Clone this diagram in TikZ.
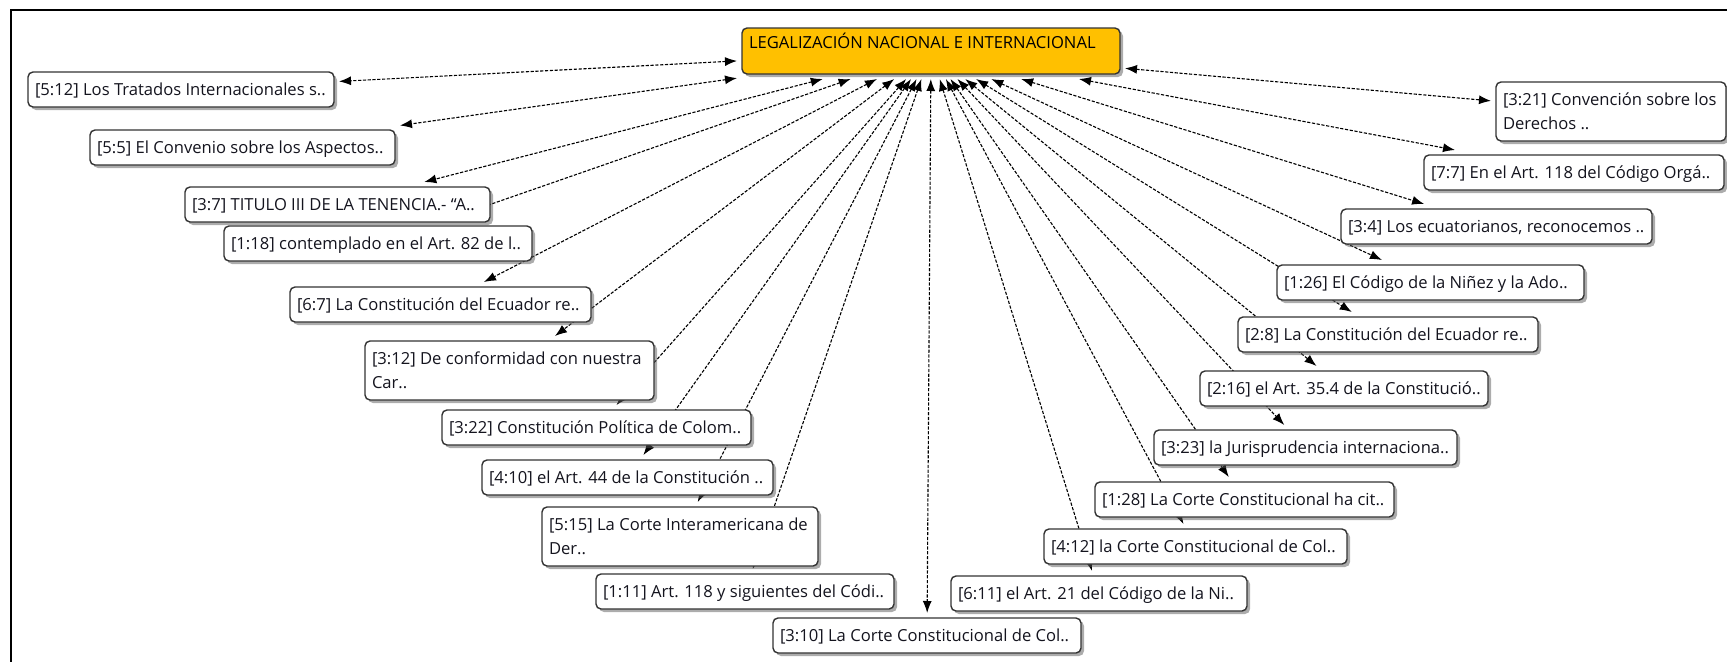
\documentclass[tikz,border=0pt]{standalone}
\usepackage{fontspec}
\setmainfont{Open Sans}
\usetikzlibrary{arrows.meta,shadows,backgrounds}

\definecolor{hubfill}{HTML}{FFC000}
\definecolor{boxline}{HTML}{333333}
\definecolor{quotetext}{HTML}{14141E}

% one-line quote text of a given width
\newcommand\oneline[2]{\makebox[#1pt][l]{#2}}
% two-line quote text of a given width
\newcommand\twolines[3]{\parbox[t]{#1pt}{\mbox{#2}\\\mbox{#3}}}

\tikzset{
  card/.style={draw=boxline, line width=1.4pt, rounded corners=5pt, fill=white,
    inner xsep=7pt, inner ysep=0pt, outer sep=5pt,
    text height=23pt, text depth=12pt, text=quotetext,
    font=\fontsize{16.6}{24}\selectfont,
    drop shadow={shadow xshift=3pt, shadow yshift=-3pt, fill=black!65}},
  twoline/.style={text depth=36pt},
  hub/.style={card, fill=hubfill, text=black, text height=20pt, text depth=26pt},
  link/.style={line width=1.1pt, dash pattern=on 3.2pt off 1.6pt,
    {Latex[length=12pt,width=9pt]}-{Latex[length=12pt,width=9pt]}},
  frameline/.style={line width=2.5pt, black}
}

\begin{document}
\begin{tikzpicture}[x=1pt, y=-1pt]
\useasboundingbox (0,0) rectangle (1727,662);

% outer frame (top and left edges)
\draw[frameline] (1727,10) -- (11,10) -- (11,662);

% central code
\node[hub] (hub) at (931,51) {\oneline{364}{LEGALIZACIÓN NACIONAL E INTERNACIONAL}};

% quotations, left fan
\node[card] (q512) at (181,89.5)   {\oneline{292}{[5:12] Los Tratados Internacionales s..}};
\node[card] (q55)  at (242.5,147.5) {\oneline{291}{[5:5] El Convenio sobre los Aspectos..}};
\node[card] (q37)  at (337.5,204.5) {\oneline{291}{[3:7] TITULO III DE LA TENENCIA.- “A..}};
\node[card] (q118) at (378,243.5)  {\oneline{294}{[1:18] contemplado en el Art. 82 de l..}};
\node[card] (q67)  at (440.5,304.5) {\oneline{287}{[6:7] La Constitución del Ecuador re..}};
\node[card,twoline] (q312) at (509.5,370.5) {\twolines{275}{[3:12] De conformidad con nuestra}{Car..}};
\node[card] (q322) at (596.5,427.5) {\oneline{295}{[3:22] Constitución Política de Colom..}};
\node[card] (q410) at (627.5,477.5) {\oneline{277}{[4:10] el Art. 44 de la Constitución ..}};
\node[card,twoline] (q515) at (680,536.5) {\twolines{262}{[5:15] La Corte Interamericana de}{Der..}};
\node[card] (q111) at (745,591.5)  {\oneline{284}{[1:11] Art. 118 y siguientes del Códi..}};
\node[card] (q310) at (927,635.5)  {\oneline{294}{[3:10] La Corte Constitucional de Col..}};

% quotations, right fan
\node[card,twoline] (q321) at (1611,111.5) {\twolines{216}{[3:21] Convención sobre los}{Derechos ..}};
\node[card] (q77)  at (1574,172.5)  {\oneline{286}{[7:7] En el Art. 118 del Código Orgá..}};
\node[card] (q34)  at (1496.5,226.5) {\oneline{297}{[3:4] Los ecuatorianos, reconocemos ..}};
\node[card] (q126) at (1430.5,282.5) {\oneline{293}{[1:26] El Código de la Niñez y la Ado..}};
\node[card] (q28)  at (1388,334.5)  {\oneline{286}{[2:8] La Constitución del Ecuador re..}};
\node[card] (q216) at (1344,388.5)  {\oneline{274}{[2:16] el Art. 35.4 de la Constitució..}};
\node[card] (q323) at (1305.5,447.5) {\oneline{289}{[3:23] la Jurisprudencia internaciona..}};
\node[card] (q128) at (1244.5,499.5) {\oneline{285}{[1:28] La Corte Constitucional ha cit..}};
\node[card] (q412) at (1195.5,546.5) {\oneline{289}{[4:12] la Corte Constitucional de Col..}};
\node[card] (q611) at (1099,593.5)  {\oneline{282}{[6:11] el Art. 21 del Código de la Ni..}};

% links from the code to every quotation, kept underneath the cards
\begin{scope}[on background layer]
  \foreach \q in {q512,q55,q37,q118,q67,q312,q322,q410,q515,q111,q310,
                  q321,q77,q34,q126,q28,q216,q323,q128,q412,q611}
    \draw[link] (hub) -- (\q);
\end{scope}
\end{tikzpicture}
\end{document}
